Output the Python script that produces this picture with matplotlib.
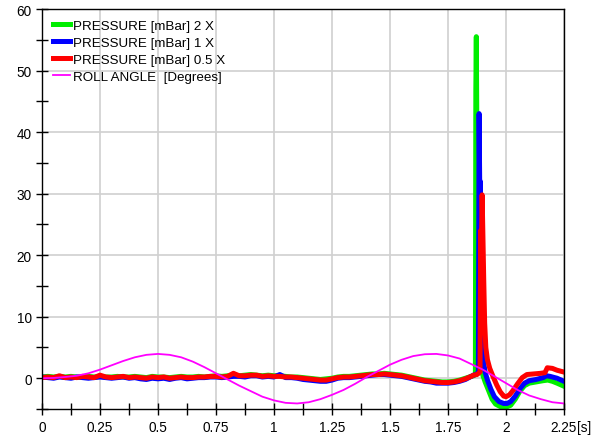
import numpy as np
import matplotlib
matplotlib.use("Agg")
import matplotlib.pyplot as plt
from matplotlib.ticker import MultipleLocator

plt.rcParams['font.family'] = ['Liberation Sans', 'DejaVu Sans']

# ---------------- data ----------------
# baseline time grid 0 .. 1.85 s, step 0.025 s
t_base = np.round(np.arange(0, 1.8501, 0.025), 3)

red_base = [0.1, 0.2, 0.1, 0.4, 0.1, 0.2, 0.1, 0.3, 0.2, 0.1,
            0.5, 0.2, 0.1, 0.2, 0.3, 0.1, 0.2, 0.1, 0.0, 0.2,
            0.1, 0.2, 0.0, 0.1, 0.2, 0.1, 0.1, 0.2, 0.2, 0.3,
            0.3, 0.2, 0.3, 0.8, 0.4, 0.4, 0.5, 0.5, 0.3, 0.4,
            0.3, 0.3, 0.2, 0.2, 0.1, 0.0, -0.1, -0.2, -0.3, -0.3,
            -0.1, 0.1, 0.2, 0.2, 0.3, 0.4, 0.5, 0.6, 0.6, 0.7,
            0.6, 0.5, 0.4, 0.2, 0.0, -0.2, -0.4, -0.5, -0.6, -0.7,
            -0.7, -0.6, -0.4, -0.1, 0.3]
blue_base = [0.2, 0.1, 0.0, 0.2, 0.1, 0.0, 0.2, 0.1, 0.0, 0.1,
             0.2, 0.1, 0.0, 0.1, 0.2, 0.0, 0.1, -0.1, -0.2, 0.0,
             -0.1, 0.0, -0.2, 0.0, 0.1, -0.1, 0.0, 0.1, 0.1, 0.2,
             0.2, 0.1, 0.2, 0.3, 0.3, 0.2, 0.4, 0.4, 0.2, 0.3,
             0.2, 0.6, 0.1, 0.1, 0.0, -0.2, -0.3, -0.4, -0.5, -0.5,
             -0.3, 0.0, 0.1, 0.1, 0.2, 0.3, 0.4, 0.5, 0.6, 0.6,
             0.5, 0.4, 0.3, 0.1, -0.1, -0.3, -0.5, -0.6, -0.8, -0.8,
             -0.8, -0.7, -0.5, -0.2, 0.3]
green_base = [0.2, 0.3, 0.2, 0.3, 0.2, 0.3, 0.2, 0.2, 0.3, 0.2,
              0.3, 0.2, 0.2, 0.3, 0.2, 0.2, 0.3, 0.2, 0.1, 0.3,
              0.2, 0.2, 0.1, 0.2, 0.3, 0.2, 0.2, 0.3, 0.2, 0.3,
              0.4, 0.3, 0.4, 0.5, 0.4, 0.5, 0.6, 0.5, 0.4, 0.5,
              0.4, 0.4, 0.3, 0.2, 0.2, 0.1, 0.0, -0.1, -0.2, -0.1,
              0.0, 0.2, 0.3, 0.3, 0.4, 0.5, 0.6, 0.7, 0.7, 0.8,
              0.7, 0.6, 0.5, 0.3, 0.1, -0.1, -0.3, -0.4, -0.5, -0.6,
              -0.6, -0.5, -0.3, 0.0, 0.3]

# spike / tail region
green_t = [1.86, 1.868, 1.870, 1.872, 1.876, 1.879, 1.883, 1.89, 1.90, 1.91,
           1.925, 1.94, 1.955, 1.975, 2.0, 2.02, 2.04, 2.06, 2.08, 2.10,
           2.13, 2.16, 2.18, 2.20, 2.22, 2.25]
green_v = [0.4, 0.6, 47.0, 55.5, 30.0, 12.0, 5.0, 2.0, 0.5, -0.6,
           -2.0, -3.4, -4.2, -4.6, -4.7, -4.4, -3.4, -2.1, -1.2, -0.8,
           -0.6, -0.4, -0.3, -0.5, -0.8, -1.3]

blue_t = [1.86, 1.875, 1.881, 1.884, 1.887, 1.889, 1.892, 1.896, 1.902, 1.91,
          1.92, 1.935, 1.95, 1.97, 1.99, 2.005, 2.02, 2.04, 2.06, 2.08,
          2.10, 2.13, 2.16, 2.175, 2.19, 2.22, 2.25]
blue_v = [0.5, 0.7, 1.0, 43.0, 30.0, 32.0, 18.0, 8.0, 3.0, 1.0,
          -0.3, -1.8, -3.0, -3.8, -4.1, -4.1, -3.8, -2.9, -1.7, -0.8,
          -0.4, -0.2, 0.1, 0.4, 0.3, 0.0, -0.5]

red_t = [1.86, 1.875, 1.888, 1.891, 1.893, 1.897, 1.90, 1.904, 1.908, 1.913,
         1.92, 1.93, 1.945, 1.96, 1.975, 1.99, 2.0, 2.015, 2.03, 2.05,
         2.07, 2.09, 2.12, 2.15, 2.168, 2.178, 2.20, 2.22, 2.25]
red_v = [0.5, 0.6, 1.0, 24.0, 18.0, 29.8, 24.0, 16.0, 9.0, 5.0,
         3.0, 1.6, 0.2, -1.1, -2.2, -2.9, -3.0, -2.7, -2.0, -0.9,
         0.1, 0.6, 0.7, 0.8, 0.9, 1.7, 1.6, 1.3, 1.0]

# roll angle, sampled every 0.05 s
roll_t = np.round(np.arange(0, 2.2501, 0.05), 3)
roll_v = [0.0, 0.05, 0.2, 0.4, 0.8, 1.4, 2.1, 2.8, 3.4, 3.8,
          3.95, 3.8, 3.4, 2.7, 1.8, 0.8, -0.2, -1.2, -2.1, -3.0,
          -3.6, -4.0, -4.1, -3.9, -3.4, -2.7, -1.9, -0.9, 0.2, 1.2,
          2.2, 3.0, 3.6, 3.9, 3.95, 3.7, 3.2, 2.3, 1.4, 0.3,
          -0.8, -1.9, -2.8, -3.4, -3.9, -4.1]

labels = ["PRESSURE [mBar] 2 X", "PRESSURE [mBar] 1 X",
          "PRESSURE [mBar] 0.5 X", "ROLL ANGLE  [Degrees]"]
x_ticks = [0, 0.25, 0.5, 0.75, 1, 1.25, 1.5, 1.75, 2, 2.25]
x_ticklabels = ["0", "0.25", "0.5", "0.75", "1", "1.25", "1.5", "1.75", "2", "2.25"]
y_ticks = [0, 10, 20, 30, 40, 50, 60]

# ---------------- plot ----------------
fig = plt.figure(figsize=(6.02, 4.39), dpi=100)
ax = fig.add_axes([42 / 602, 1 - 410 / 439, (564 - 42) / 602, 400 / 439])

gx = np.concatenate([t_base, green_t])
bx = np.concatenate([t_base, blue_t])
rx = np.concatenate([t_base, red_t])

ax.plot(gx, green_base + green_v, color='#00ee00', lw=3.6, label=labels[0],
        solid_joinstyle='round')
ax.plot(bx, blue_base + blue_v, color='#0000ff', lw=3.6, label=labels[1],
        solid_joinstyle='round')
ax.plot(rx, red_base + red_v, color='#ff0000', lw=3.6, label=labels[2],
        solid_joinstyle='round')
ax.plot(roll_t, roll_v, color='#ff00ff', lw=1.3, label=labels[3])

ax.set_xlim(0, 2.25)
ax.set_ylim(-5, 60)
ax.set_xticks(x_ticks)
ax.set_xticklabels(x_ticklabels)
ax.set_yticks(y_ticks)
ax.xaxis.set_minor_locator(MultipleLocator(0.125))
ax.yaxis.set_minor_locator(MultipleLocator(5))
ax.tick_params(which='both', direction='inout', length=8, width=1,
               labelsize=9.8, top=False, right=False)
ax.tick_params(axis='x', pad=4)
ax.grid(True, which='major', color='#d0d0d0', lw=1.2)
ax.set_axisbelow(True)
for s in ax.spines.values():
    s.set_linewidth(1.0)

leg = ax.legend(loc='upper left', frameon=False, fontsize=9.6,
                handlelength=1.3, handletextpad=0.2, labelspacing=0.35,
                borderaxespad=0.3, borderpad=0.5)

fig.canvas.draw()
lab = ax.get_xticklabels()[-1]
bb = lab.get_window_extent()
fig.text(bb.x1 / fig.bbox.width, bb.y0 / fig.bbox.height, "[s]",
         fontsize=9.8, ha='left', va='bottom')

fig.savefig("out.png", dpi=100)
